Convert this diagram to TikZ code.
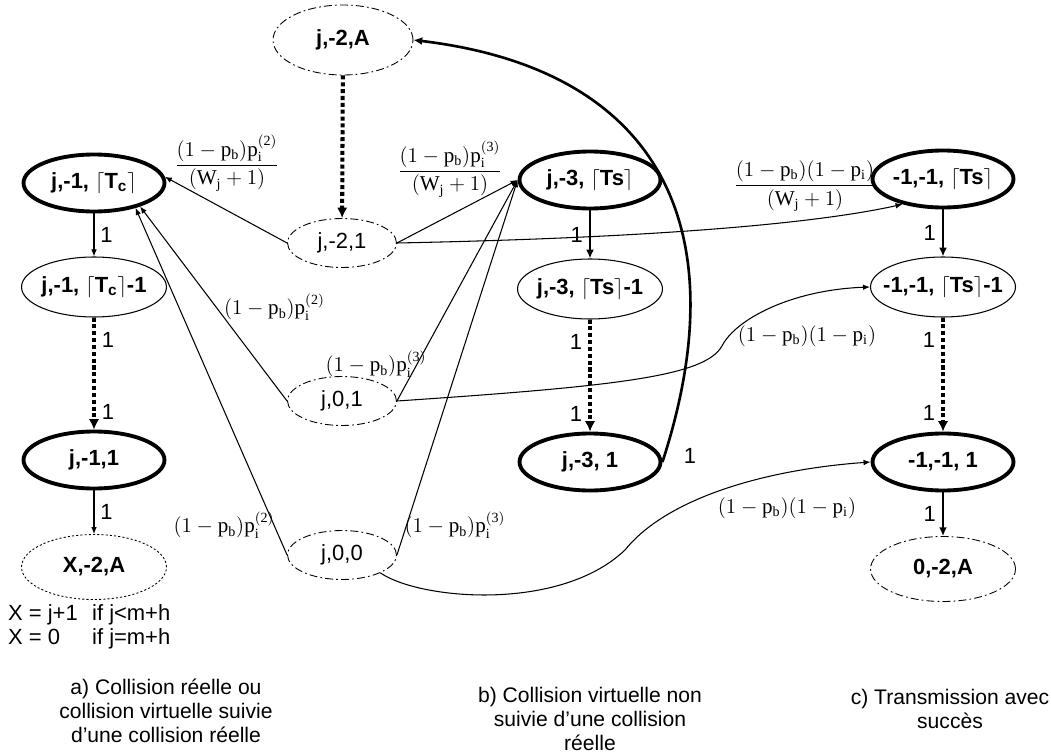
\documentclass[tikz,border=0pt]{standalone}
\usepackage{amsmath}
\usepackage{fontspec}
\setmainfont{Liberation Serif}
\setsansfont{Liberation Sans}
\setmathrm{Liberation Serif}
\usetikzlibrary{arrows.meta,shapes.geometric}

\begin{document}
\begin{tikzpicture}[x=0.02cm,y=-0.02cm,
    txt/.style={font=\sffamily\fontsize{12.5}{13.7}\selectfont},
    captext/.style={font=\sffamily\fontsize{12}{13.6}\selectfont,align=center},
    prob/.style={font=\fontsize{12}{14}\selectfont,inner sep=1pt},
    st/.style={ellipse,draw,inner xsep=-8pt,inner ysep=0pt,minimum width=2.82cm,minimum height=1.14cm,font=\sffamily\bfseries\fontsize{12.5}{15}\selectfont},
    keyst/.style={st,line width=2.2pt},
    midst/.style={st,line width=0.6pt,minimum width=2.9cm,minimum height=1.2cm},
    virt/.style={ellipse,draw,line width=0.5pt,dash pattern=on 4.5pt off 1.8pt on 1pt off 1.8pt,inner xsep=-8pt,inner ysep=0pt,minimum width=2.18cm,minimum height=0.98cm,font=\sffamily\fontsize{12.5}{15}\selectfont},
    endst/.style={virt,font=\sffamily\bfseries\fontsize{12.5}{15}\selectfont,minimum width=2.9cm,minimum height=1.3cm},
    move/.style={-{Latex[length=4pt,width=3.2pt]},line width=0.6pt},
    bigmove/.style={-{Latex[length=5pt,width=4.5pt]},line width=1.5pt},
    wait/.style={-{Latex[length=6pt,width=6pt]},line width=2.3pt,dash pattern=on 2.3pt off 1.6pt}
  ]
  \useasboundingbox (0,0) rectangle (1051,753);

  % states
  \node[endst,minimum width=2.8cm,minimum height=1.4cm] (vtop) at (343,40) {j,-2,A};
  \node[keyst] (coll) at (94,183) {j,-1, $\lceil$T\textsubscript{c}$\rceil$};
  \node[midst] (collm) at (94,287) {j,-1, $\lceil$T\textsubscript{c}$\rceil$-1};
  \node[keyst] (collend) at (94,460) {j,-1,1};
  \node[endst,dash pattern=on 1.2pt off 1.2pt] (collnext) at (94,567) {X,-2,A};
  \node[virt] (v21) at (342,243) {j,-2,1};
  \node[virt] (v01) at (342,401) {j,0,1};
  \node[virt] (v00) at (342,555) {j,0,0};
  \node[keyst] (virt) at (590,180) {j,-3, $\lceil$Ts$\rceil$};
  \node[midst] (virtm) at (590,289) {j,-3, $\lceil$Ts$\rceil$-1};
  \node[keyst] (virtend) at (590,462) {j,-3, 1};
  \node[keyst] (succ) at (943,179) {-1,-1, $\lceil$Ts$\rceil$};
  \node[midst] (succm) at (943,287) {-1,-1, $\lceil$Ts$\rceil$-1};
  \node[keyst] (succend) at (943,462) {-1,-1, 1};
  \node[endst] (succnext) at (943,569) {0,-2,A};

  % countdown chains
  \draw[move] (coll) -- node[txt,right] (c1) {1} (collm);
  \draw[wait] (collm) -- node[txt,pos=0.2,right] (c2) {1} node[txt,pos=0.84,right] (c3) {1} (collend);
  \draw[move] (collend) -- node[txt,right] (c4) {1} (collnext);
  \draw[wait] (vtop) -- (v21);
  \draw[bigmove] (virt) -- node[txt,left] (b1) {1} (virtm);
  \draw[wait] (virtm) -- node[txt,pos=0.2,left] (b2) {1} node[txt,pos=0.84,left] (b3) {1} (virtend);
  \draw[bigmove] (succ) -- node[txt,left] (s1) {1} (succm);
  \draw[wait] (succm) -- node[txt,pos=0.2,left] (s2) {1} node[txt,pos=0.84,left] (s3) {1} (succend);
  \draw[bigmove] (succend) -- node[txt,left] (s4) {1} (succnext);
  \draw[bigmove] (virtend.east) .. controls +(75,-230) and +(250,30) .. (vtop.east);
  \node[txt] (b4) at (690,456) {1};

  % transitions out of the virtual states
  \draw[move] (v21.west) -- (coll.5);
  \draw[move] (v21.east) -- (virt.west);
  \draw[move] (v21.east) .. controls +(250,-5) and +(-90,20) .. (succ.212);
  \draw[move] (v01.west) -- (coll.-27);
  \draw[move] (v01.east) -- (virt.west);
  \draw[move] (v01.east) .. controls (620,386) and (705,376) .. (722,346)
    .. controls (735,320) and (790,290) .. (succm.west);
  \draw[move] (v00.west) -- (coll.-31);
  \draw[move] (v00.east) -- (virt.west);
  \draw[move] (v00.-25) .. controls (420,600) and (560,612) .. (625,550)
    .. controls (665,500) and (760,470) .. (succend.west);

  % probabilities
  \node[prob] (p21a) at (227,163) {$\dfrac{(1-\mathrm{p_b})\mathrm{p_i^{(2)}}}{(\mathrm{W_j}+1)}$};
  \node[prob] (p21b) at (450,169) {$\dfrac{(1-\mathrm{p_b})\mathrm{p_i^{(3)}}}{(\mathrm{W_j}+1)}$};
  \node[prob] (p21c) at (805,186) {$\dfrac{(1-\mathrm{p_b})(1-\mathrm{p_i})}{(\mathrm{W_j}+1)}$};
  \node[prob,anchor=west] (p01a) at (222,307) {$(1-\mathrm{p_b})\mathrm{p_i^{(2)}}$};
  \node[prob] (p01b) at (376,364) {$(1-\mathrm{p_b})\mathrm{p_i^{(3)}}$};
  \node[prob] (p01c) at (807,336) {$(1-\mathrm{p_b})(1-\mathrm{p_i})$};
  \node[prob] (p00a) at (224,525) {$(1-\mathrm{p_b})\mathrm{p_i^{(2)}}$};
  \node[prob] (p00b) at (455,525) {$(1-\mathrm{p_b})\mathrm{p_i^{(3)}}$};
  \node[prob] (p00c) at (787,508) {$(1-\mathrm{p_b})(1-\mathrm{p_i})$};

  % notes and captions
  \node[txt,anchor=west,align=left] (xrule) at (2,627) {\makebox[1.68cm][l]{X = j+1}if j<m+h\\\makebox[1.68cm][l]{X = 0}if j=m+h};
  \node[captext] (capa) at (166,711) {a) Collision réelle ou\\collision virtuelle suivie\\d’une collision réelle};
  \node[captext] (capb) at (590,719) {b) Collision virtuelle non\\suivie d’une collision\\réelle};
  \node[captext] (capc) at (950,709) {c) Transmission avec\\succès};
\end{tikzpicture}
\end{document}
